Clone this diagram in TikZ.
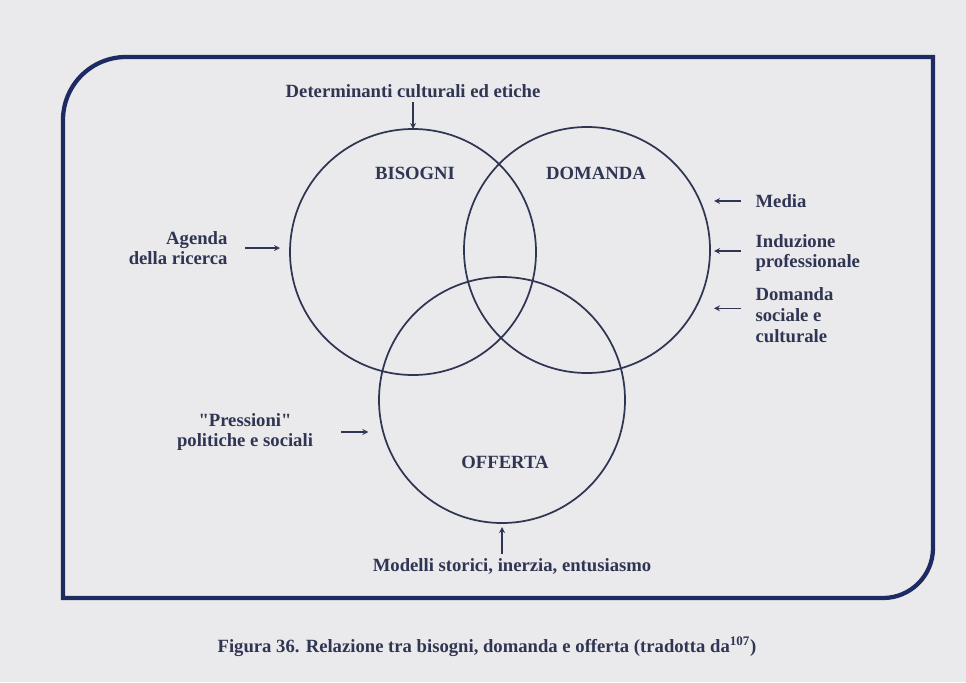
\documentclass[tikz,border=0pt]{standalone}
\usepackage{fontspec}
\setmainfont{Liberation Serif}[Ligatures=TeXOff]
\usetikzlibrary{positioning}
\definecolor{paper}{HTML}{EAEAEC}
\definecolor{ink}{HTML}{2F3552}
\definecolor{frameblue}{HTML}{1D2B62}
\begin{document}
\begin{tikzpicture}[x=0.75pt,y=-0.75pt,
  lab/.style={font=\bfseries\fontsize{14}{15.5}\selectfont, text=ink, inner sep=1pt},
  ring/.style={circle, draw=ink, line width=1.3pt, minimum size=184.5pt, inner sep=0pt, outer sep=0pt},
  arr/.style={->, >=stealth, draw=ink, line width=1pt}]
 \useasboundingbox[fill=paper] (0,0) rectangle (966,682);
 \draw[frameblue, line width=3.2pt]
  (63,598) -- (63,120) arc (180:270:63) -- (933,57) -- (933,548) arc (0:90:50) -- cycle;
 \foreach \n/\x/\y in {bis/413/252, dom/587/250, off/502/400}
  {
    \node[ring] (\n) at (\x,\y) {};
  }
 \node[lab] (bisogni) at (415,173) {BISOGNI};
 \node[lab] (domanda) at (596,173) {DOMANDA};
 \node[lab] (offerta) at (505,462) {OFFERTA};
 \node[lab] (det) at (413,91) {Determinanti culturali ed etiche};
 \node[lab, align=right, anchor=east] (age) at (229,248) {Agenda\\della ricerca};
 \node[lab, align=center] (pre) at (245,432) {"Pressioni"\\politiche e sociali};
 \node[lab] (mod) at (512,566) {Modelli storici, inerzia, entusiasmo};
 \node[lab, anchor=west] (media) at (754,201) {Media};
 \node[lab, align=left, anchor=west] (ind) at (754,253) {Induzione\\professionale};
 \node[lab, align=left, anchor=west] (soc) at (754,315) {Domanda\\sociale e\\culturale};
 \node[text=ink, font=\bfseries\fontsize{14}{16}\selectfont] (cap) at (487,647)
  {Figura 36. Relazione tra bisogni, domanda e offerta (tradotta da\textsuperscript{107})};
 \draw[arr] ([yshift=-2pt]det.south) -- (bis.north);
 \draw[arr] ([xshift=12pt]age.east) -- ([xshift=-7.5pt]age.east -| bis.west);
 \draw[arr] ([xshift=20pt]pre.east) -- ([xshift=-8pt]pre.east -| off.west);
 \draw[arr] ([yshift=2pt]off.south |- mod.north) -- ([yshift=-3pt]off.south);
 \draw[arr] ([xshift=-10pt]media.west) -- ([xshift=-30pt]media.west);
 \draw[arr] ([xshift=-10pt,yshift=1.5pt]ind.west) -- ([xshift=-30pt,yshift=1.5pt]ind.west);
 \draw[arr] ([xshift=-10pt,yshift=5pt]soc.west) -- ([xshift=-30pt,yshift=5pt]soc.west);
\end{tikzpicture}
\end{document}
